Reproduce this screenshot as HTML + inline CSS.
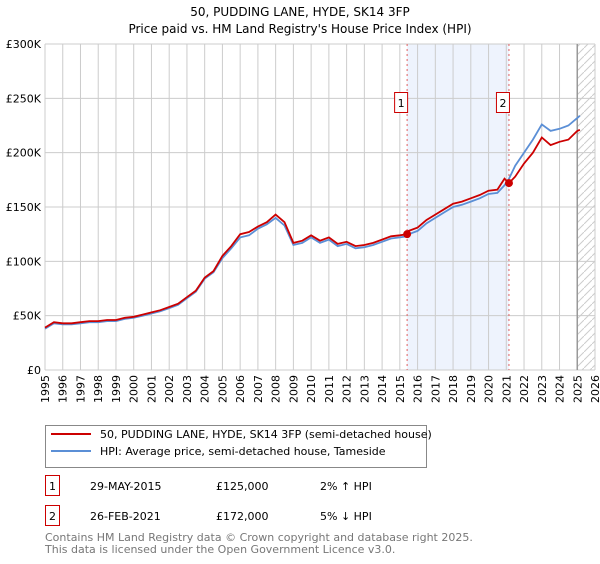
<!DOCTYPE html>
<html><head><meta charset="utf-8"><style>
body{margin:0;background:#fff;font-family:"DejaVu Sans","Liberation Sans",sans-serif;}
svg text{font-family:"DejaVu Sans","Liberation Sans",sans-serif;}
</style></head><body>
<svg id="c" width="600" height="560" xmlns="http://www.w3.org/2000/svg">
<defs><pattern id="h" width="8" height="8" patternUnits="userSpaceOnUse"><path d="M0 8L8 0" stroke="#ccc" stroke-width="1"/></pattern></defs>
<text x="300" y="16" text-anchor="middle" font-size="12">50, PUDDING LANE, HYDE, SK14 3FP</text>
<text x="300" y="33" text-anchor="middle" font-size="12">Price paid vs. HM Land Registry's House Price Index (HPI)</text>
<g id="grid"></g><g id="marks"></g><g id="axes"></g>
<g>
<rect x="45.5" y="425.5" width="381" height="42" fill="#fff" stroke="#888"/>
<line x1="51" y1="434" x2="91" y2="434" stroke="#cc0000" stroke-width="2"/>
<text x="100" y="438" font-size="11">50, PUDDING LANE, HYDE, SK14 3FP (semi-detached house)</text>
<line x1="51" y1="451" x2="91" y2="451" stroke="#5b8fd6" stroke-width="2"/>
<text x="100" y="455" font-size="11">HPI: Average price, semi-detached house, Tameside</text>
</g>
<g>
<rect x="45.5" y="475.5" width="14" height="20" fill="#fff" stroke="#c00"/><text x="52.5" y="490" text-anchor="middle" font-size="11">1</text>
<text x="90" y="490" font-size="11">29-MAY-2015</text><text x="216" y="490" font-size="11">£125,000</text><text x="320" y="490" font-size="11">2% ↑ HPI</text>
<rect x="45.5" y="505.5" width="14" height="20" fill="#fff" stroke="#c00"/><text x="52.5" y="520" text-anchor="middle" font-size="11">2</text>
<text x="90" y="520" font-size="11">26-FEB-2021</text><text x="216" y="520" font-size="11">£172,000</text><text x="320" y="520" font-size="11">5% ↓ HPI</text>
</g>
<text x="45" y="541" font-size="11" fill="#777">Contains HM Land Registry data © Crown copyright and database right 2025.</text>
<text x="45" y="553" font-size="11" fill="#777">This data is licensed under the Open Government Licence v3.0.</text>
</svg>
<script>
const years=[1995,1995.5,1996,1996.5,1997,1997.5,1998,1998.5,1999,1999.5,2000,2000.5,2001,2001.5,2002,2002.5,2003,2003.5,2004,2004.5,2005,2005.5,2006,2006.5,2007,2007.5,2008,2008.5,2009,2009.5,2010,2010.5,2011,2011.5,2012,2012.5,2013,2013.5,2014,2014.5,2015,2015.41,2015.5,2016,2016.5,2017,2017.5,2018,2018.5,2019,2019.5,2020,2020.5,2020.9,2021.15,2021.5,2022,2022.5,2023,2023.5,2024,2024.5,2025,2025.15];
const hpi=[38,43,42,42,43,44,44,45,45,47,48,50,52,54,57,60,66,72,84,90,103,112,122,124,130,134,140,133,115,117,122,117,120,114,116,112,113,115,118,121,122,123,125,128,135,140,145,150,152,155,158,162,163,170,176,188,200,212,226,220,222,225,232,234];
const price=[39,44,43,43,44,45,45,46,46,48,49,51,53,55,58,61,67,73,85,91,105,114,125,127,132,136,143,136,117,119,124,119,122,116,118,114,115,117,120,123,124,125,128,131,138,143,148,153,155,158,161,165,166,176,172,178,190,200,214,207,210,212,220,221];
const sales=[{n:'1',t:2015.41,v:125},{n:'2',t:2021.15,v:172}];
const yTicks=[0,50,100,150,200,250,300];
const yLabels=['£0','£50K','£100K','£150K','£200K','£250K','£300K'];
const X0=45,X1=595,T0=1995,T1=2026,Y0=370,Y1=44;
const x=t=>X0+(t-T0)*(X1-X0)/(T1-T0);
const y=v=>Y0-v*(Y0-Y1)/300;
const NS='http://www.w3.org/2000/svg';
function mk(p,tag,a){const e=document.createElementNS(NS,tag);for(const k in a)e.setAttribute(k,a[k]);p.appendChild(e);return e;}
const grid=document.getElementById('grid'),marks=document.getElementById('marks'),axes=document.getElementById('axes');
let e=mk(grid,'rect',{x:x(sales[0].t),y:Y1,width:x(sales[1].t)-x(sales[0].t),height:Y0-Y1,fill:'#eef3fd'});


e=mk(grid,'rect',{x:x(2025.0),y:Y1,width:X1-x(2025.0),height:Y0-Y1,fill:'url(#h)'});


for(let t=T0;t<=T1;t++){
 mk(grid,'line',{x1:x(t),x2:x(t),y1:Y1,y2:Y0,stroke:'#ccc','stroke-width':1});
 e=mk(axes,'text',{x:0,y:0,'font-size':11,'text-anchor':'end',transform:`translate(${x(t)+4},375) rotate(-90)`});
 e.textContent=t;
 
 
}
yTicks.forEach((v,i)=>{
 mk(grid,'line',{x1:X0,x2:X1,y1:y(v),y2:y(v),stroke:'#ccc','stroke-width':1});
 e=mk(axes,'text',{x:X0-4,y:y(v)+4,'font-size':11,'text-anchor':'end'});
 e.textContent=yLabels[i];
 
 
});
mk(grid,'line',{x1:x(2025.0),x2:x(2025.0),y1:Y1,y2:Y0,stroke:'#999','stroke-width':1.5});
const pts=a=>a.map((v,i)=>x(years[i]).toFixed(1)+','+y(v).toFixed(1)).join(' ');
e=mk(marks,'polyline',{points:pts(hpi),fill:'none',stroke:'#5b8fd6','stroke-width':1.8});


e=mk(marks,'polyline',{points:pts(price),fill:'none',stroke:'#cc0000','stroke-width':1.8});


sales.forEach(s=>{
 mk(marks,'line',{x1:x(s.t),x2:x(s.t),y1:Y1,y2:Y0,stroke:'#e06060','stroke-width':1,'stroke-dasharray':'2,3'});
 e=mk(marks,'circle',{cx:x(s.t),cy:y(s.v),r:4,fill:'#cc0000'});
 
 
 const bx=x(s.t)-13;
 mk(marks,'rect',{x:bx+0.5,y:92.5,width:13,height:20,fill:'#fff',stroke:'#c00'});
 e=mk(marks,'text',{x:bx+7,y:107,'font-size':11,'text-anchor':'middle'});
 e.textContent=s.n;
 
 
});
</script>
</body></html>
